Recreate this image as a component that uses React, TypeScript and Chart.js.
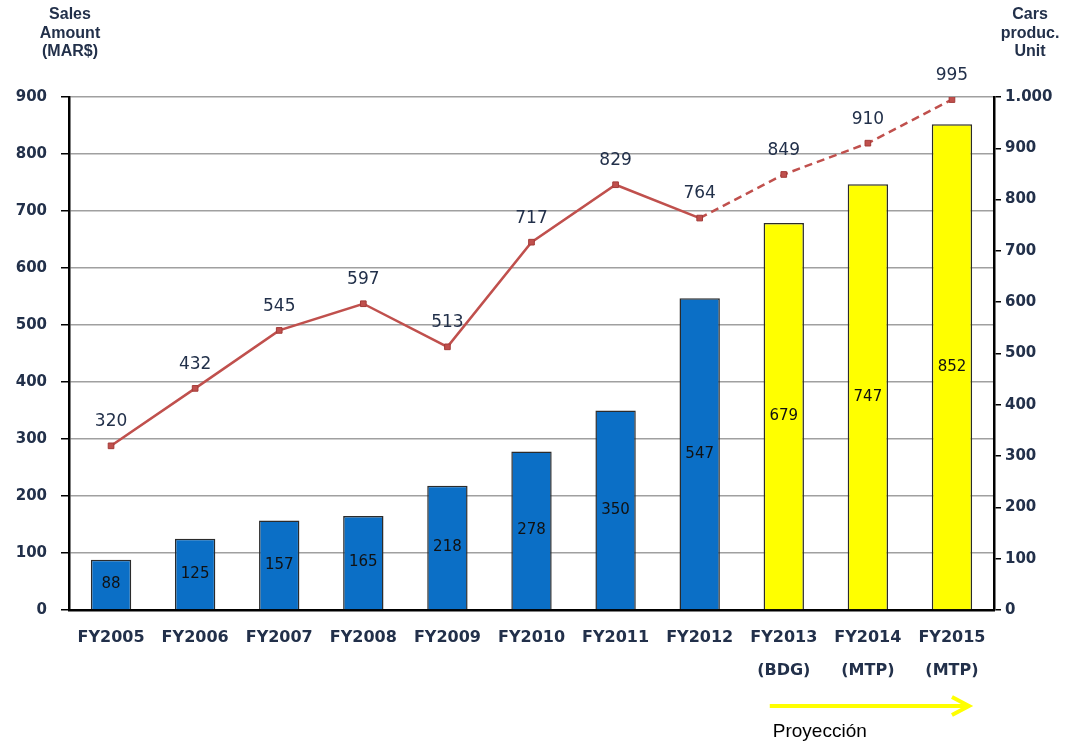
import React, { useEffect, useRef } from "react";
import { Chart, registerables } from "chart.js";

Chart.register(...registerables);

const categories: string[][] = [
  ["FY2005"], ["FY2006"], ["FY2007"], ["FY2008"], ["FY2009"], ["FY2010"],
  ["FY2011"], ["FY2012"], ["FY2013", "(BDG)"], ["FY2014", "(MTP)"], ["FY2015", "(MTP)"],
];
const salesAmount = [88, 125, 157, 165, 218, 278, 350, 547, 679, 747, 852];
const carsProduced = [320, 432, 545, 597, 513, 717, 829, 764, 849, 910, 995];
const forecastStart = 8; // index of first projected year
const leftTitle = ["Sales", "Amount", "(MAR$)"];
const rightTitle = ["Cars", "produc.", "Unit"];
const projectionLabel = "Proyección";

const BLUE = "#0B6FC6";
const YELLOW = "#FFFF00";
const RED = "#C0504D";
const TEXT = "#22304A";

const overlay = {
  id: "overlay",
  afterDatasetsDraw(chart: any) {
    const { ctx } = chart;
    ctx.save();
    // bar labels
    const barMeta = chart.getDatasetMeta(0);
    ctx.font = "15px 'DejaVu Sans'";
    ctx.fillStyle = "#111111";
    ctx.textAlign = "center";
    ctx.textBaseline = "middle";
    barMeta.data.forEach((el: any, i: number) => {
      const y = (el.y + el.base) / 2;
      ctx.fillText(String(salesAmount[i]), el.x, y);
    });
    // line labels
    const lineMeta = chart.getDatasetMeta(1);
    ctx.font = "17px 'DejaVu Sans'";
    ctx.fillStyle = TEXT;
    lineMeta.data.forEach((el: any, i: number) => {
      ctx.fillText(String(carsProduced[i]), el.x, el.y - 24);
    });
    ctx.restore();
  },
  afterDraw(chart: any) {
    const { ctx } = chart;
    const area = chart.chartArea;
    ctx.save();
    ctx.fillStyle = TEXT;
    ctx.textAlign = "center";
    ctx.textBaseline = "middle";
    ctx.font = "bold 16px 'Liberation Sans'";
    leftTitle.forEach((t, i) => ctx.fillText(t, 70, 15 + i * 18.5));
    rightTitle.forEach((t, i) => ctx.fillText(t, 1030, 15 + i * 18.5));

    // projection arrow
    const xs = chart.scales.x;
    const x0 = xs.getPixelForValue(forecastStart) - 14;
    const x1 = xs.getPixelForValue(categories.length - 1) + 17;
    const y = area.bottom + 96;
    ctx.strokeStyle = YELLOW;
    ctx.lineWidth = 4;
    ctx.beginPath();
    ctx.moveTo(x0, y);
    ctx.lineTo(x1, y);
    ctx.stroke();
    ctx.beginPath();
    ctx.moveTo(x1 - 17, y - 9);
    ctx.lineTo(x1, y);
    ctx.lineTo(x1 - 17, y + 9);
    ctx.stroke();

    ctx.fillStyle = "#000000";
    ctx.textAlign = "left";
    ctx.font = "19px 'Liberation Sans'";
    ctx.fillText(projectionLabel, x0 + 3, y + 26);
    ctx.restore();
  },
};

function App() {
  const canvasRef = useRef<HTMLCanvasElement | null>(null);

  useEffect(() => {
    const canvas = canvasRef.current;
    if (!canvas) return;
    const chart = new Chart(canvas, {
      type: "bar",
      data: {
        labels: categories,
        datasets: [
          {
            type: "bar",
            label: "Sales Amount",
            data: salesAmount,
            yAxisID: "y",
            backgroundColor: salesAmount.map((_, i) => (i < forecastStart ? BLUE : YELLOW)),
            borderColor: "#2B2B2B",
            borderWidth: 1.5,
            barPercentage: 0.48,
            categoryPercentage: 1,
            order: 2,
          },
          {
            type: "line",
            label: "Cars produced",
            data: carsProduced,
            yAxisID: "y1",
            borderColor: RED,
            borderWidth: 2.5,
            pointStyle: "rect",
            pointRadius: 4,
            pointBackgroundColor: RED,
            pointBorderColor: "#A33B38",
            pointBorderWidth: 1,
            tension: 0,
            segment: {
              borderDash: (ctx: any) => (ctx.p0DataIndex >= forecastStart - 1 ? [8, 5] : undefined),
            },
            order: 1,
          } as any,
        ],
      },
      options: {
        animation: false,
        responsive: true,
        maintainAspectRatio: false,
        layout: { padding: { top: 97, left: 0, right: 0, bottom: 0 } },
        plugins: {
          legend: { display: false },
          tooltip: { enabled: false },
          title: { display: false },
        },
        scales: {
          x: {
            type: "category",
            offset: true,
            grid: { display: false, drawTicks: false },
            border: { display: true, color: "#000000", width: 2.5 },
            ticks: {
              padding: 11,
              color: TEXT,
              maxRotation: 0,
              autoSkip: false,
              font: { family: "'DejaVu Sans'", weight: "bold", size: 16, lineHeight: "33px" },
            },
            afterFit(scale: any) {
              scale.height = 134;
            },
          },
          y: {
            position: "left",
            min: 0,
            max: 900,
            ticks: {
              stepSize: 100,
              padding: 14,
              color: TEXT,
              font: { family: "'DejaVu Sans'", weight: "bold", size: 15 },
            },
            grid: {
              color: "#A0A0A0",
              lineWidth: 1.5,
              tickColor: "#000000",
              tickLength: 8,
            },
            border: { display: true, color: "#000000", width: 2.5 },
            afterFit(scale: any) {
              scale.width = 69;
            },
          },
          y1: {
            position: "right",
            min: 0,
            max: 1000,
            ticks: {
              stepSize: 100,
              padding: 4,
              color: TEXT,
              font: { family: "'DejaVu Sans'", weight: "bold", size: 15 },
              callback: (v: any) => Number(v).toLocaleString("de-DE"),
            },
            grid: {
              drawOnChartArea: false,
              tickColor: "#000000",
              tickLength: 7,
              lineWidth: 1.5,
            },
            border: { display: true, color: "#000000", width: 2.5 },
            afterFit(scale: any) {
              scale.width = 79;
            },
          },
        },
      },
      plugins: [overlay],
    });
    return () => chart.destroy();
  }, []);

  return (
    <div style={{ position: "absolute", left: 0, top: 0, width: 1073, height: 744, background: "#ffffff" }}>
      <canvas ref={canvasRef} />
    </div>
  );
}

export default App;
